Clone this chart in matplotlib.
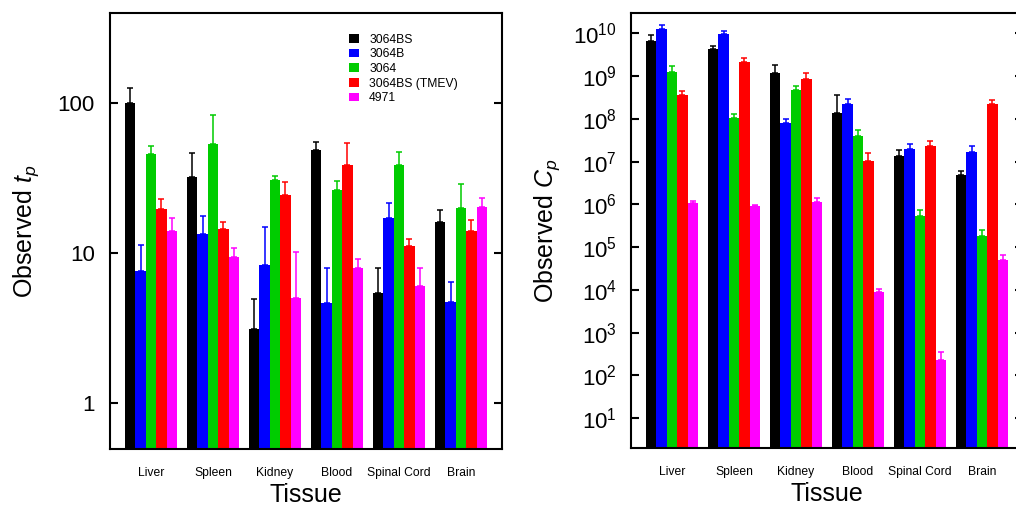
import numpy as np
import matplotlib
matplotlib.use("Agg")
import matplotlib.pyplot as plt

plt.rcParams['font.family'] = ['Liberation Sans', 'DejaVu Sans']
plt.rcParams['mathtext.fontset'] = 'custom'
plt.rcParams['mathtext.rm'] = 'Liberation Sans'
plt.rcParams['mathtext.it'] = 'Liberation Sans:italic'

tissues = ['Liver', 'Spleen', 'Kidney', 'Blood', 'Spinal Cord', 'Brain']
strains = ['3064BS', '3064B', '3064', '3064BS (TMEV)', '4971']
colors = ['#000000', '#0000ff', '#00cc00', '#ff0000', '#ff00ff']

# observed t_p (mean) and top of the error bar, one row per strain
tp_mean = [
    [100, 32.0, 3.11, 48.9, 5.43, 16.0],
    [7.53, 13.4, 8.30, 4.63, 17.0, 4.71],
    [45.7, 53.3, 30.5, 26.3, 38.6, 20.0],
    [19.6, 14.5, 24.4, 38.6, 11.2, 13.9],
    [14.1, 9.33, 5.0, 7.88, 6.04, 20.4],
]
tp_upper = [
    [126, 46.7, 4.95, 54.7, 7.88, 19.2],
    [11.3, 17.7, 15.0, 7.97, 21.5, 6.43],
    [52.0, 83.2, 32.5, 30.3, 47.2, 29.0],
    [22.8, 16.0, 29.9, 54.2, 12.4, 16.5],
    [17.0, 10.7, 10.2, 9.10, 7.92, 23.3],
]

# observed C_p (mean) and top of the error bar
cp_mean = [
    [6.7e9, 4.3e9, 1.16e9, 1.37e8, 1.36e7, 4.8e6],
    [1.24e10, 9.6e9, 8.0e7, 2.27e8, 1.98e7, 1.71e7],
    [1.25e9, 1.05e8, 4.8e8, 4.0e7, 5.4e5, 1.8e5],
    [3.6e8, 2.18e9, 8.7e8, 1.04e7, 2.28e7, 2.19e8],
    [1.06e6, 9.0e5, 1.14e6, 8.7e3, 231, 5.0e4],
]
cp_upper = [
    [9.0e9, 5.2e9, 1.79e9, 3.7e8, 1.9e7, 6.05e6],
    [1.54e10, 1.15e10, 9.9e7, 2.97e8, 2.59e7, 2.28e7],
    [1.75e9, 1.32e8, 6.0e8, 5.6e7, 7.4e5, 2.48e5],
    [4.4e8, 2.7e9, 1.2e9, 1.62e7, 2.99e7, 2.81e8],
    [1.22e6, 9.9e5, 1.44e6, 1.05e4, 349, 6.6e4],
]

W, H = 1016, 505
fig = plt.figure(figsize=(W / 100, H / 100), dpi=100)
ax1 = fig.add_axes([110 / W, 56 / H, 392 / W, 436 / H])
ax2 = fig.add_axes([631 / W, 57 / H, 392 / W, 435 / H])

x = np.arange(len(tissues))
bw = 0.168


def draw(ax, means, uppers, bottom, ylim, ypad):
    ax.set_yscale('log')
    for i, name in enumerate(strains):
        xs = x + (i - 2) * bw
        m = np.array(means[i], dtype=float)
        u = np.array(uppers[i], dtype=float)
        ax.bar(xs, m - bottom, bw, bottom=bottom, color=colors[i], label=name,
               linewidth=0, zorder=2)
        ax.errorbar(xs, m, yerr=[np.zeros_like(m), u - m], fmt='none',
                    ecolor=colors[i], elinewidth=1.1, capsize=2.2,
                    capthick=1.1, zorder=3)
    ax.set_xlim(-0.66, 5.66)
    ax.set_ylim(*ylim)
    ax.set_xticks(x)
    ax.set_xticklabels(tissues, fontsize=8.7)
    ax.tick_params(axis='x', length=0, pad=13)
    ax.tick_params(axis='y', which='major', direction='in', length=6,
                   width=1.5, labelsize=16, left=True, right=True, pad=ypad)
    ax.tick_params(axis='y', which='minor', left=False, right=False)
    for s in ax.spines.values():
        s.set_linewidth(1.5)
    ax.set_xlabel('Tissue', fontsize=18, labelpad=3)


draw(ax1, tp_mean, tp_upper, 0.1, (0.49, 400), 11)
ax1.yaxis.set_major_locator(matplotlib.ticker.FixedLocator([1, 10, 100]))
ax1.yaxis.set_major_formatter(matplotlib.ticker.FixedFormatter(['1', '10', '100']))
ax1.set_ylabel('Observed $t_p$', fontsize=18, labelpad=12)

leg = ax1.legend(loc='upper left', bbox_to_anchor=(0.598, 0.964), frameon=False,
                 fontsize=8.7, handlelength=0.8, handleheight=0.75,
                 handletextpad=0.85, labelspacing=0.22, borderaxespad=0)

draw(ax2, cp_mean, cp_upper, 1.0, (2.0, 3e10), 10)
ax2.yaxis.set_major_locator(matplotlib.ticker.LogLocator(base=10, numticks=15))
ax2.set_ylabel('Observed $C_p$', fontsize=18, labelpad=8)

fig.savefig('out.png', dpi=100)
